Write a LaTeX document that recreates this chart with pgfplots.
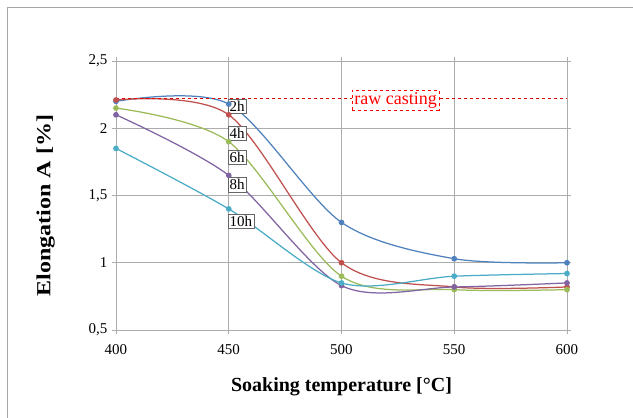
\documentclass[border=0pt]{standalone}
\usepackage{fontspec}
\setmainfont{Liberation Serif}
\usepackage{pgfplots}
\pgfplotsset{compat=1.18}
\definecolor{cblue}{HTML}{4F81BD}
\definecolor{cred}{HTML}{C0504D}
\definecolor{cgreen}{HTML}{9BBB59}
\definecolor{cpurple}{HTML}{8064A2}
\definecolor{ccyan}{HTML}{4BACC6}
\begin{document}
\begin{tikzpicture}
\useasboundingbox (-116pt,-88pt) rectangle (517pt,330pt);
\draw[gray!70, line width=0.8pt] (-109pt,-88pt) -- (-109pt,323pt) -- (517pt,323pt);
\begin{axis}[
  at={(0pt,0pt)}, anchor=south west,
  scale only axis, width=451pt, height=269pt,
  xmin=400, xmax=600, ymin=0.5, ymax=2.5,
  xtick={400,450,...,600}, ytick={0.5,1,1.5,2,2.5},
  /pgf/number format/use comma,
  /pgf/number format/assume math mode=true,
  tick label style={font=\fontsize{15}{17}\selectfont},
  xticklabel style={yshift=-7pt},
  yticklabel style={xshift=-1pt},
  xlabel={\bfseries Soaking temperature [°C]},
  ylabel={\bfseries\scalebox{1.2}[1]{Elongation A [\%]}},
  label style={font=\fontsize{20}{22}\selectfont\bfseries},
  xlabel style={yshift=-16pt},
  ylabel style={yshift=27pt, xshift=-10pt},
  grid=major,
  grid style={gray!65, line width=0.8pt},
  axis line style={gray!65, line width=0.8pt},
  tick style={gray!65, line width=0.8pt},
  tick align=outside, major tick length=4pt,
  every axis plot/.append style={line width=1.25pt, mark=*, mark size=2.2pt},
  clip=false,
]
\addplot[cblue, smooth, tension=0.5, mark options={fill=cblue}] coordinates {(400,2.20) (450,2.18) (500,1.30) (550,1.03) (600,1.00)};
\addplot[cred, smooth, tension=0.5, mark options={fill=cred}] coordinates {(400,2.21) (450,2.10) (500,1.00) (550,0.82) (600,0.82)};
\addplot[cgreen, smooth, tension=0.5, mark options={fill=cgreen}] coordinates {(400,2.15) (450,1.90) (500,0.90) (550,0.80) (600,0.80)};
\addplot[cpurple, smooth, tension=0.5, mark options={fill=cpurple}] coordinates {(400,2.10) (450,1.65) (500,0.83) (550,0.82) (600,0.85)};
\addplot[ccyan, smooth, tension=0.5, mark options={fill=ccyan}] coordinates {(400,1.85) (450,1.40) (500,0.85) (550,0.90) (600,0.92)};
\addplot[red!90!black, dashed, line width=0.9pt, mark=none] coordinates {(400,2.22) (600,2.22)};
\begin{scope}[every node/.style={draw=black!60, fill=white, inner sep=1.8pt, font=\fontsize{15}{17}\selectfont, anchor=west}]
\node at (axis cs:449.5,2.165) {2h};
\node at (axis cs:449.5,1.96) {4h};
\node at (axis cs:449.5,1.785) {6h};
\node at (axis cs:449.5,1.58) {8h};
\node at (axis cs:449.5,1.31) {10h};
\end{scope}
\node[draw=red, dashed, fill=white, text=red, inner sep=2pt, font=\fontsize{18}{20}\selectfont] at (axis cs:524,2.21) {raw casting};
\end{axis}
\end{tikzpicture}
\end{document}
